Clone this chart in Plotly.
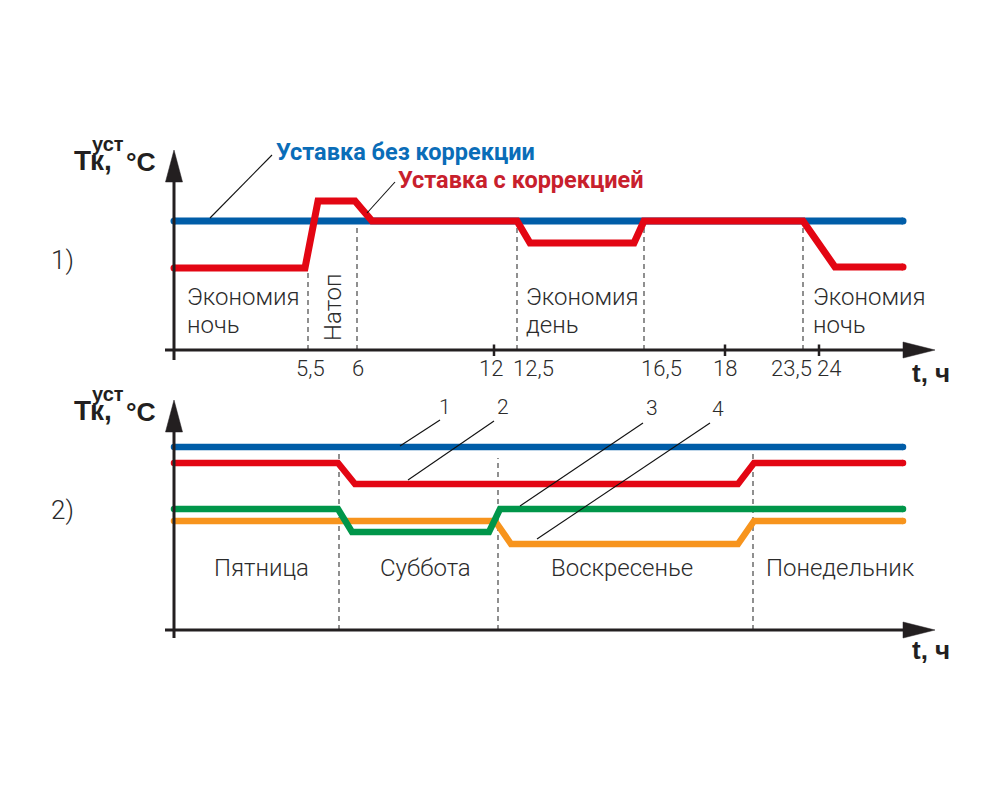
import plotly.graph_objects as go

# ---------------- DATA ----------------
# Panel 1: schematic time positions (diagram units) and setpoint levels
p1_blue_x = [174, 903]
p1_blue_y = [12.9, 12.9]
p1_red_x = [174, 305, 318, 355, 372, 517, 530, 634, 644, 803, 835, 903]
p1_red_y = [8.2, 8.2, 14.9, 14.9, 12.9, 12.9, 10.7, 10.7, 12.9, 12.9, 8.3, 8.3]
p1_dash_x = [308, 357, 517, 644, 803]
p1_dash_top = [8.0, 12.7, 12.7, 12.7, 12.7]
p1_tick_labels = ["5,5", "6", "12", "12,5", "16,5", "18", "23,5", "24"]
p1_tick_label_x = [310, 358, 491, 533, 661, 725, 791, 829]
p1_tick_marks_x = [494, 725, 819]

# Panel 2: four setpoint curves over the week
p2_blue_x = [174, 903]
p2_blue_y = [18.3, 18.3]
p2_red_x = [174, 338, 355, 738, 754, 903]
p2_red_y = [16.7, 16.7, 14.6, 14.6, 16.7, 16.7]
p2_green_x = [174, 338, 352, 489, 500, 903]
p2_green_y = [12.1, 12.1, 9.8, 9.8, 12.1, 12.1]
p2_orange_x = [174, 495, 511, 738, 754, 903]
p2_orange_y = [10.9, 10.9, 8.6, 8.6, 10.9, 10.9]
p2_dash_x = [339, 498, 753]
p2_dash_top = [17.8, 17.2, 18.8]
p2_days = ["Пятница", "Суббота", "Воскресенье", "Понедельник"]
p2_day_x = [261, 425, 622, 840]

# ---------------- STYLE ----------------
BLUE = "#005DA8"
RED = "#E30613"
GREEN = "#00964A"
ORANGE = "#F7941D"
AX = "#231F20"
TXT = "#2B2B2B"
LIGHT = dict(family="Roboto", size=24, color=TXT, weight=300)

fig = go.Figure()


def add_line(x, y, color, width, xa, ya):
    fig.add_trace(go.Scatter(x=x, y=y, mode="lines", line=dict(color=color, width=width),
                             xaxis=xa, yaxis=ya, hoverinfo="skip", showlegend=False))
    fig.add_trace(go.Scatter(x=[x[0], x[-1]], y=[y[0], y[-1]], mode="markers",
                             marker=dict(color=color, size=width, line=dict(width=0)),
                             xaxis=xa, yaxis=ya, hoverinfo="skip", showlegend=False))


add_line(p1_blue_x, p1_blue_y, BLUE, 7, "x", "y")
add_line(p1_red_x, p1_red_y, RED, 7, "x", "y")

add_line(p2_blue_x, p2_blue_y, BLUE, 6.5, "x2", "y2")
add_line(p2_red_x, p2_red_y, RED, 6.5, "x2", "y2")
add_line(p2_orange_x, p2_orange_y, ORANGE, 6.5, "x2", "y2")
add_line(p2_green_x, p2_green_y, GREEN, 6.5, "x2", "y2")

shapes = []
ann = []

for xr, yr, ylow, ytop_axis, yarrow_tip, yarrow_base in [
        ("x", "y", -1.0, 17.0, 20.0, 16.8),
        ("x2", "y2", -0.8, 20.0, 23.0, 19.8)]:
    # axes lines
    shapes.append(dict(type="line", xref=xr, yref=yr, x0=165, x1=906, y0=0, y1=0,
                       line=dict(color=AX, width=3)))
    shapes.append(dict(type="line", xref=xr, yref=yr, x0=174, x1=174, y0=ylow, y1=ytop_axis,
                       line=dict(color=AX, width=3)))
    # arrow heads
    shapes.append(dict(type="path", xref=xr, yref=yr,
                       path="M 903 0.8 L 935 0 L 903 -0.8 Z",
                       fillcolor=AX, line=dict(color=AX, width=0.5)))
    shapes.append(dict(type="path", xref=xr, yref=yr,
                       path=f"M 165.5 {yarrow_base} L 174 {yarrow_tip} L 182.5 {yarrow_base} Z",
                       fillcolor=AX, line=dict(color=AX, width=0.5)))

# dashed guide lines
for x, yt in zip(p1_dash_x, p1_dash_top):
    shapes.append(dict(type="line", xref="x", yref="y", x0=x, x1=x, y0=0, y1=yt,
                       line=dict(color="#555555", width=1.3, dash="5px,4px"), layer="below"))
for x, yt in zip(p2_dash_x, p2_dash_top):
    shapes.append(dict(type="line", xref="x2", yref="y2", x0=x, x1=x, y0=0, y1=yt,
                       line=dict(color="#555555", width=1.3, dash="5px,4px"), layer="below"))
# tick marks
for x in p1_tick_marks_x:
    shapes.append(dict(type="line", xref="x", yref="y", x0=x, x1=x, y0=0.55, y1=-0.6,
                       line=dict(color=AX, width=2.5)))

# leader lines
leaders = [("x", "y", 272, 19.5, 210, 13.2), ("x", "y", 395, 16.8, 367, 13.7),
           ("x2", "y2", 440, 21.0, 400, 18.4), ("x2", "y2", 494, 20.9, 408, 15.0),
           ("x2", "y2", 643, 20.7, 520, 12.4), ("x2", "y2", 710, 20.7, 537, 9.1)]
for xr, yr, xa, ya, xb, yb in leaders:
    shapes.append(dict(type="line", xref=xr, yref=yr, x0=xa, y0=ya, x1=xb, y1=yb,
                       line=dict(color="#111111", width=1.1)))


def text(s, x, y, xr, yr, font, xanchor="center", yanchor="middle", angle=0):
    ann.append(dict(text=s, x=x, y=y, xref=xr, yref=yr, showarrow=False, font=font,
                    xanchor=xanchor, yanchor=yanchor, textangle=angle, borderpad=0))


# panel 1 texts
for lab, x in zip(p1_tick_labels, p1_tick_label_x):
    text(lab, x, -1.8, "x", "y", dict(LIGHT, size=22))
text("Экономия", 186, 5.3, "x", "y", LIGHT, xanchor="left")
text("ночь", 186, 2.5, "x", "y", LIGHT, xanchor="left")
text("Экономия", 525, 5.3, "x", "y", LIGHT, xanchor="left")
text("день", 525, 2.5, "x", "y", LIGHT, xanchor="left")
text("Экономия", 812, 5.3, "x", "y", LIGHT, xanchor="left")
text("ночь", 812, 2.5, "x", "y", LIGHT, xanchor="left")
text("Натоп", 333, 4.3, "x", "y", LIGHT, angle=-90)
text("1)", 62, 9.0, "x", "y", dict(LIGHT, size=26))
text("Уставка без коррекции", 275, 19.8, "x", "y",
     dict(family="Roboto", size=23.5, color="#0A6DB8", weight=700), xanchor="left")
text("Уставка с коррекцией", 397, 17.0, "x", "y",
     dict(family="Roboto", size=23.5, color="#C8202C", weight=700), xanchor="left")

# panel 2 texts
for d, x in zip(p2_days, p2_day_x):
    text(d, x, 6.2, "x2", "y2", LIGHT)
for i, (x, y) in enumerate([(445, 21.0), (503, 21.0), (652, 20.9), (718, 20.8)]):
    text(str(i + 1), x, y, "x2", "y2", dict(LIGHT, size=21), yanchor="bottom")
text("2)", 62, 12.0, "x2", "y2", dict(LIGHT, size=26))

# axis titles (both panels): (Тк, y), (уст y), (°C y), (t,ч y)
BOLD = dict(family="Liberation Sans", size=28, color=AX, weight=700)
for xr, yr, y_tk, y_sup, y_c, y_t in [("x", "y", 18.9, 20.6, 18.8, -2.3),
                                      ("x2", "y2", 21.9, 23.6, 21.8, -2.0)]:
    text("Тк,", 73, y_tk, xr, yr, BOLD, xanchor="left")
    text("уст", 91, y_sup, xr, yr, dict(BOLD, size=20), xanchor="left")
    text("°C", 125, y_c, xr, yr, dict(BOLD, size=26.5), xanchor="left")
    text("t, ч", 931, y_t, xr, yr, dict(BOLD, size=26))

hide = dict(visible=False, fixedrange=True)
fig.update_layout(
    width=1000, height=800, autosize=False,
    margin=dict(l=0, r=0, t=0, b=0),
    paper_bgcolor="white", plot_bgcolor="rgba(0,0,0,0)",
    showlegend=False,
    xaxis=dict(hide, domain=[0, 1], range=[0, 1000], anchor="y"),
    yaxis=dict(hide, domain=[1 - 385 / 800, 1 - 130 / 800], range=[-3.5, 22], anchor="x"),
    xaxis2=dict(hide, domain=[0, 1], range=[0, 1000], anchor="y2"),
    yaxis2=dict(hide, domain=[1 - 665 / 800, 1 - 385 / 800], range=[-3.5, 24.5], anchor="x2"),
    shapes=shapes, annotations=ann,
)

fig.write_html("out.html", post_script="document.body.style.margin='0';",
               config={"displayModeBar": False})
